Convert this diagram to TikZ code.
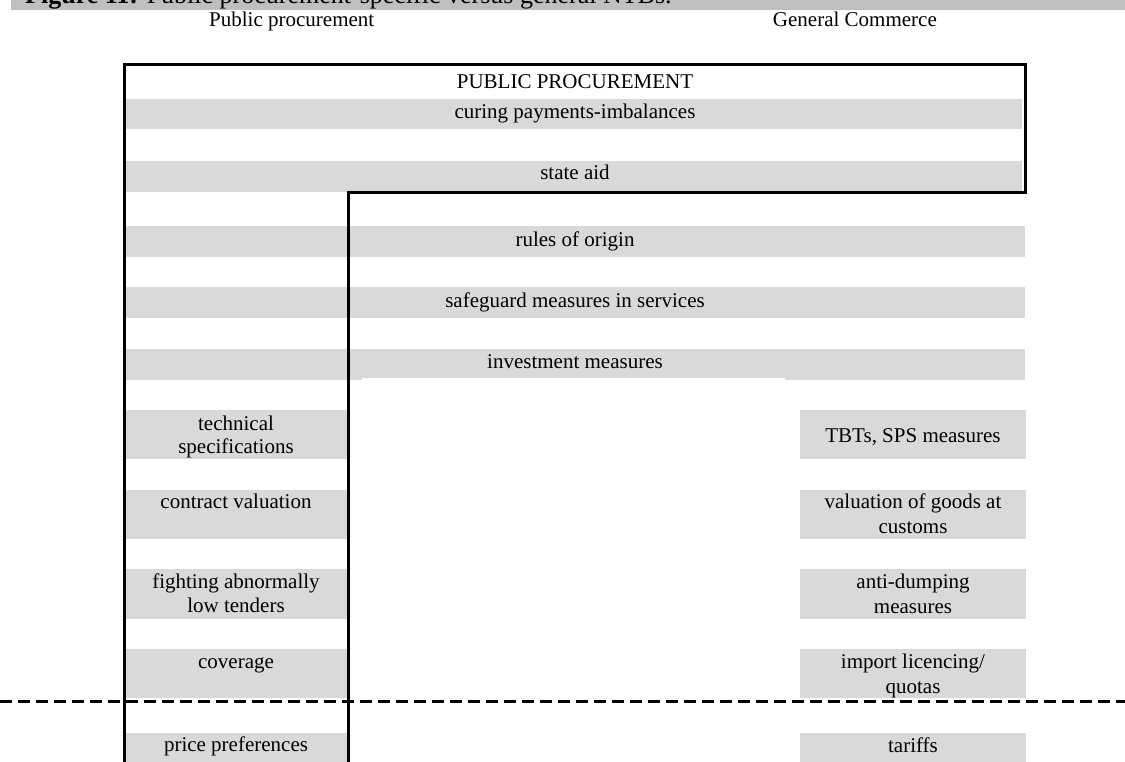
\documentclass[tikz,border=0pt]{standalone}
\usepackage{fontspec}
\setmainfont{Liberation Serif}
\definecolor{stripgray}{HTML}{D9D9D9}
\definecolor{bargray}{HTML}{BFBFBF}
\tikzset{
  strip/.style={fill=stripgray, draw=none},
  lbl/.style={inner sep=0pt, anchor=base, font=\fontsize{21pt}{24pt}\selectfont},
  frameline/.style={line width=3pt, line join=miter},
  divider/.style={line width=3pt, dash pattern=on 12pt off 6pt},
}
\begin{document}
\begin{tikzpicture}[x=1pt,y=-1pt]
\useasboundingbox (0,0) rectangle (1125,762);
\clip (0,0) rectangle (1125,762);
% title bar
\fill[bargray] (11,-20) rectangle (1125,10);
\node[lbl, anchor=base west, font=\fontsize{26pt}{30pt}\selectfont] (title) at (25,4) {\textbf{Figure 11:} Public procurement-specific versus general NTBs.};
% column headings
\node[lbl, anchor=base west] (hpp) at (209,27) {Public procurement};
\node[lbl, anchor=base east] (hgc) at (937,27) {General Commerce};
% full-width strips
\fill[strip] (126,99) rectangle (1022,129);
\fill[strip] (126,161) rectangle (1022,192);
\fill[strip] (126,226) rectangle (1025,257);
\fill[strip] (126,287) rectangle (1025,318);
\fill[strip] (126,349) rectangle (1025,380);
\fill[white] (362,377.5) rectangle (785,380.5);
% left strips
\fill[strip] (126,410) rectangle (347,459);
\fill[strip] (126,490) rectangle (347,539);
\fill[strip] (126,569) rectangle (347,619);
\fill[strip] (126,649) rectangle (347,698);
\fill[strip] (126,733) rectangle (347,770);
% right strips
\fill[strip] (800,410) rectangle (1026,459);
\fill[strip] (800,490) rectangle (1026,539);
\fill[strip] (800,569) rectangle (1026,619);
\fill[strip] (800,649) rectangle (1026,698);
\fill[strip] (800,733) rectangle (1026,770);
% labels, full width
\node[lbl] (pp) at (575,89) {PUBLIC PROCUREMENT};
\node[lbl] (cpi) at (575,119) {curing payments-imbalances};
\node[lbl] (sa) at (575,180) {state aid};
\node[lbl] (roo) at (575,247) {rules of origin};
\node[lbl] (sms) at (575,308) {safeguard measures in services};
\node[lbl] (im) at (575,368) {investment measures};
% labels, left
\node[lbl] (ts1) at (236,430) {technical};
\node[lbl] (ts2) at (236,453) {specifications};
\node[lbl] (cv) at (236,508) {contract valuation};
\node[lbl] (fa1) at (236,588) {fighting abnormally};
\node[lbl] (fa2) at (236,612) {low tenders};
\node[lbl] (cov) at (236,668) {coverage};
\node[lbl] (prp) at (236,751) {price preferences};
% labels, right
\node[lbl] (tbt) at (913,442) {TBTs, SPS measures};
\node[lbl] (vg1) at (913,508) {valuation of goods at};
\node[lbl] (vg2) at (913,533) {customs};
\node[lbl] (ad1) at (913,588) {anti-dumping};
\node[lbl] (ad2) at (913,613) {measures};
\node[lbl] (il1) at (913,668) {import licencing/};
\node[lbl] (il2) at (913,693) {quotas};
\node[lbl] (tar) at (913,752) {tariffs};
% frame
\draw[frameline] (124,775) -- (124,65) -- (1025,65) -- (1025,193) -- (348,193) -- (348,775);
% dashed divider
\coordinate (dl) at (0,701);
\coordinate (dr) at (1125,701);
\draw[divider] (dl) -- (dr);
\end{tikzpicture}
\end{document}
